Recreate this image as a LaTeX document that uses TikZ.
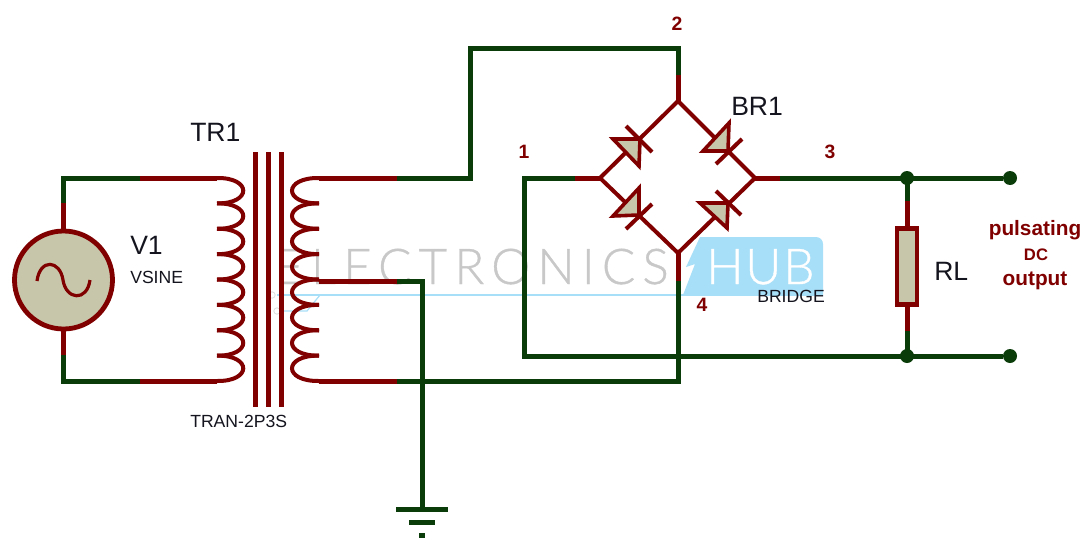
\documentclass[tikz,border=0pt]{standalone}
\usepackage{fontspec}
\setmainfont{Liberation Sans}
\newfontfamily\wmfont[FakeBold=0.7]{Lato Light}
\definecolor{wred}{RGB}{128,0,0}
\definecolor{wgreen}{RGB}{10,60,10}
\definecolor{pfill}{RGB}{200,198,170}
\definecolor{hubblue}{RGB}{168,223,248}
\definecolor{wmgray}{RGB}{200,200,200}
\definecolor{txt}{RGB}{20,20,30}
\tikzset{
 gw/.style={draw=wgreen,line width=3.75pt,line join=miter},
 rw/.style={draw=wred,line width=3.75pt},
 arm/.style={draw=wred,line width=3pt},
 coilw/.style={draw=wred,line width=3pt},
 bl/.style={draw=hubblue,line width=0.9pt},
 lab/.style={anchor=base west,inner sep=0pt,text=txt},
 big/.style={lab,font=\fontsize{19.9pt}{20pt}\selectfont},
 small/.style={lab,font=\fontsize{13.2pt}{14pt}\selectfont},
 pin/.style={anchor=base,inner sep=0pt,text=wred,font=\fontsize{14.5pt}{15pt}\selectfont\bfseries},
 outlab/.style={anchor=base,inner sep=0pt,text=wred,font=\fontsize{15.6pt}{16pt}\selectfont\bfseries},
 dot/.style={circle,fill=wgreen,inner sep=0pt,minimum size=10.5pt},
 diodefill/.style={draw=wred,fill=pfill,line width=2.7pt,line join=miter},
}
\begin{document}
\begin{tikzpicture}[x=0.75pt,y=-0.75pt]
\useasboundingbox (0,0) rectangle (1091,553);
\fill[white] (0,0) rectangle (1091,553);
% watermark
\fill[hubblue] (700,237) -- (816,237) to[out=0,in=90] (823,244) -- (823,295) -- (683,295) -- (695,264) -- (686,267) -- cycle;
\draw[bl] (277,295) -- (823,295);
\draw[bl] (283,311) -- (307,311) -- (320,295);
\draw[draw=wmgray!60,line width=.6pt] (272,295) circle (3.2) (277,311) circle (3.2);
\node[anchor=base west,inner sep=0pt,text=wmgray] (wm) at (275,284) {\wmfont\fontsize{37pt}{37pt}\selectfont\addfontfeature{LetterSpace=14.5}ELECTRONICS};
\node[anchor=base west,inner sep=0pt,text=white] (hub) at (706,284) {\wmfont\fontsize{37pt}{37pt}\selectfont\addfontfeature{LetterSpace=4}HUB};
% coordinates
\foreach \n/\x/\y in {sT/63/178,sTr/63/203,sB/63/381,sBr/63/355,pT/217/178,pB/217/381,pTm/140/178,pBm/140/381,
 qT/319/178,qTm/397/178,qM/319/281,qMm/397/281,qB/319/381,qBm/397/381,
 up/470/178,upT/470/48,brT/678/48,brTm/678/75,brN/678/101,brW/600/178,brE/755/178,brS/678/253,brSm/678/281,brSb/678/381,
 lW/575/178,lWg/524/178,lWb/524/356,rE/780/178,gT/422/281,gB/422/509,
 ju/907/178,jd/907/356,rU/907/201,rD/907/331,g1a/396/509,g1b/448/509,g2a/409/522,g2b/435/522,g3a/419/535,g3b/425/535}
 {\coordinate (\n) at (\x,\y);}
% source
\node[circle,draw=wred,fill=pfill,line width=3.6pt,minimum size=73.5pt,inner sep=0pt] (src) at (63.5,280) {};
\draw[draw=wred,line width=2.4pt] (37,281) .. controls (40,258) and (60,260) .. (63,280) .. controls (66,300) and (87,302) .. (90,280);
% source wires
\draw[gw] (pTm) -- (sT) -- (sTr);
\draw[gw] (pBm) -- (sB) -- (sBr);
\draw[rw] (sTr) -- (sTr |- src.north);
\draw[rw] (sBr) -- (sBr |- src.south);
\draw[rw] (pTm) -- (pT);
\draw[rw] (pBm) -- (pB);
% coils
\foreach \i in {0,...,7}{
 \pgfmathsetmacro{\ya}{178+25.375*\i}
 \pgfmathsetmacro{\yb}{178+25.375*(\i+1)}
 \pgfmathsetmacro{\ca}{\ya-0.5}
 \pgfmathsetmacro{\cb}{\yb+0.5}
 \draw[coilw] (217,\ya) .. controls (252,\ca) and (252,\cb) .. (217,\yb);
 \draw[coilw] (319,\ya) .. controls (283,\ca) and (283,\cb) .. (319,\yb);
}
% core
\foreach \x in {255.5,268.5,281.5} \draw[draw=wred,line width=3.6pt] (\x,152) -- (\x,407);
% secondary wiring
\draw[rw] (qT) -- (qTm);
\draw[gw] (qTm) -- (up) -- (upT) -- (brT) -- (brTm);
\draw[rw] (brTm) -- (brN);
\draw[rw] (qM) -- (qMm);
\draw[gw] (qMm) -- (gT) -- (gB);
\draw[rw] (qB) -- (qBm);
\draw[gw] (qBm) -- (brSb) -- (brSm);
\draw[rw] (brSm) -- (brS);
% ground
\draw[gw] (g1a) -- (g1b);
\draw[gw] (g2a) -- (g2b);
\draw[gw] (g3a) -- (g3b);
% bridge arms
\draw[arm] (brW) -- (brN) -- (brE) -- (brS) -- (brW) -- cycle;
% diodes
\draw[diodefill] (613,139) -- (639,166) -- (640,139) -- cycle;
\draw[arm] (626,126) -- (652,152);
\draw[diodefill] (703,151) -- (729,123) -- (728,151) -- cycle;
\draw[arm] (716,164) -- (742,139);
\draw[diodefill] (613,216) -- (639,188) -- (639,215) -- cycle;
\draw[arm] (626,229) -- (652,204);
\draw[diodefill] (700,203) -- (727,228) -- (728,203) -- cycle;
\draw[arm] (716,191) -- (741,215);
% bridge side wires
\draw[rw] (lW) -- (brW);
\draw[rw] (brE) -- (rE);
\node[dot] (dj1) at (ju) {};
\node[dot] (dj2) at (jd) {};
\node[dot] (o1) at (1010,178) {};
\node[dot] (o2) at (1010,356) {};
\draw[gw] (lW) -- (lWg) -- (lWb) -- (jd) -- (o2);
\draw[gw] (rE) -- (o1);
% resistor
\node[draw=wred,fill=pfill,line width=3.6pt,minimum width=15pt,minimum height=57pt,inner sep=0pt] (rl) at (907,266.5) {};
\draw[gw] (ju) -- (rU);
\draw[gw] (jd) -- (rD);
\draw[rw] (rU) -- (rl.north);
\draw[rw] (rD) -- (rl.south);
% labels
\node[big] (tr1) at (190,141) {TR1};
\node[big] (v1) at (130,254) {V1};
\node[small] (vs) at (130,283) {VSINE};
\node[small] (tran) at (190,427) {TRAN-2P3S};
\node[big] (br1) at (731,115) {BR1};
\node[small] (brg) at (757,302) {BRIDGE};
\node[big] (rln) at (934,280) {RL};
\node[pin] (n1) at (524,158) {1};
\node[pin] (n2) at (677,31) {2};
\node[pin] (n3) at (830,158) {3};
\node[pin] (n4) at (702,311) {4};
\node[outlab] (o1t) at (1035,235) {pulsating};
\node[pin,font=\fontsize{12.5pt}{13pt}\selectfont\bfseries] (o2t) at (1036,260) {DC};
\node[outlab] (o3t) at (1035,285) {output};
\end{tikzpicture}
\end{document}
